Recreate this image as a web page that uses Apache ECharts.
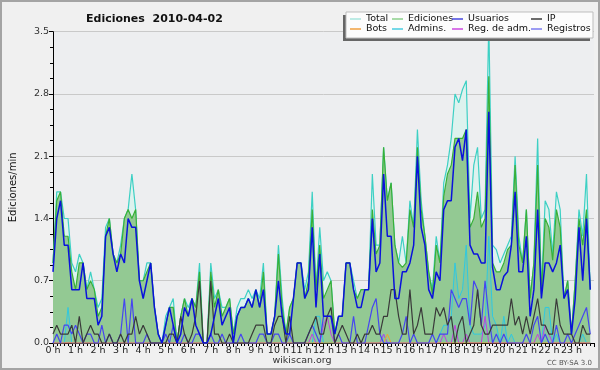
<!DOCTYPE html>
<html><head><meta charset="utf-8">
<script src="https://cdn.jsdelivr.net/npm/echarts@6/dist/echarts.min.js"></script>
<style>html,body{margin:0;padding:0;background:#f0f0f0}#c{width:600px;height:370px}</style>
</head><body><div id="c"></div>
<script>
const hourLabels = ['0 h','1 h','2 h','3 h','4 h','5 h','6 h','7 h','8 h','9 h','10 h','11 h','12 h','13 h','14 h','15 h','16 h','17 h','18 h','19 h','20 h','21 h','22 h','23 h'];
const yTicks = [0, 0.7, 1.4, 2.1, 2.8, 3.5];

const total = [
0.9,1.7,1.7,1.4,1.4,0.9, 0.8,1.0,0.9,0.6,0.8,0.6, 0.4,0.5,1.3,1.4,1.0,0.9, 1.1,1.4,1.5,1.9,1.5,0.7,
0.7,0.9,0.9,0.4,0.1,0, 0.3,0.4,0.5,0,0.3,0.5, 0.4,0.5,0.4,0.9,0,0, 0.9,0.5,0.6,0.4,0.4,0.5,
0.1,0.4,0.5,0.5,0.6,0.5, 0.6,0.5,0.9,0.1,0.1,0.3, 1.1,0.5,0.1,0.4,0.5,0.9, 0.9,0.6,0.8,1.7,0.6,1.3,
0.7,0.8,0.7,0.1,0.3,0.3, 0.9,0.9,0.7,0.5,0.6,0.6, 0.6,1.9,1.1,1.1,2.2,1.6, 1.8,1.1,0.9,1.2,0.9,1.6,
1.3,2.4,1.6,1.2,0.8,0.6, 1.2,0.9,1.8,2.0,2.3,2.8, 2.7,2.85,2.95,1.4,2.0,2.2, 1.4,1.5,3.6,1.1,1.05,0.9,
1.0,1.1,1.2,2.1,1.2,0.9, 1.5,0.5,0.9,2.3,0.6,1.6, 1.5,1.0,1.7,1.5,0.5,0.7, 0.1,0.7,1.5,1.2,1.9,0.6];

const ediciones = [
0.9,1.6,1.7,1.2,1.2,0.8, 0.6,0.9,0.9,0.6,0.7,0.6, 0.3,0.4,1.2,1.4,1.0,0.9, 1.0,1.4,1.5,1.4,1.5,0.7,
0.7,0.8,0.9,0.4,0.1,0, 0.2,0.4,0.4,0,0.3,0.5, 0.3,0.5,0.4,0.8,0,0, 0.8,0.4,0.6,0.3,0.4,0.5,
0.1,0.3,0.4,0.4,0.5,0.4, 0.6,0.4,0.8,0.1,0.1,0.3, 1.0,0.4,0.1,0.4,0.5,0.9, 0.9,0.5,0.7,1.5,0.6,1.1,
0.5,0.6,0.7,0.1,0.3,0.3, 0.9,0.9,0.6,0.5,0.6,0.6, 0.6,1.5,1.0,1.1,2.2,1.6, 1.8,1.1,0.9,0.85,0.9,1.5,
1.3,2.2,1.5,1.2,0.8,0.55, 1.1,0.9,1.65,1.9,2.0,2.3, 2.3,2.3,2.4,1.3,1.4,1.7, 1.3,1.4,3.0,0.9,0.8,0.8,
0.9,1.05,1.1,2.0,1.1,0.9, 1.5,0.5,0.9,2.0,0.55,1.4, 1.3,0.93,1.5,1.3,0.5,0.7, 0.1,0.7,1.4,1.1,1.5,0.6];

const usuarios = [
0.8,1.4,1.6,1.1,1.1,0.6, 0.6,0.6,0.9,0.5,0.5,0.5, 0.2,0.3,1.2,1.3,1.0,0.8, 1.0,0.9,1.4,1.3,1.3,0.7,
0.5,0.7,0.9,0.4,0.1,0, 0.2,0.4,0.2,0,0.1,0.4, 0.3,0.5,0.2,0.1,0,0, 0.1,0.3,0.5,0.2,0.3,0.4,
0,0.3,0.4,0.4,0.5,0.4, 0.6,0.4,0.6,0.1,0.1,0.3, 0.7,0.3,0.1,0.1,0.5,0.9, 0.9,0.5,0.6,1.3,0.4,1.0,
0.3,0.3,0.3,0.1,0.3,0.3, 0.9,0.9,0.6,0.4,0.4,0.6, 0.6,1.4,0.8,0.9,1.9,1.2, 1.2,0.5,0.5,0.8,0.8,0.9,
1.1,2.1,1.3,1.1,0.6,0.5, 0.8,0.7,1.5,1.6,1.6,2.2, 2.3,2.05,2.4,1.1,1.0,1.0, 0.9,0.9,2.6,0.85,0.6,0.6,
0.75,0.8,1.1,1.7,0.8,0.8, 1.2,0.3,0.6,1.5,0.5,0.9, 0.9,0.8,0.9,1.1,0.5,0.6, 0.1,0.5,1.3,0.7,1.4,0.6];

const ip = [
0.1,0.2,0.1,0.1,0.1,0.2, 0,0.3,0,0.1,0.2,0.1, 0.1,0,0,0.1,0,0, 0.1,0,0.1,0.1,0.3,0.1,
0.2,0.1,0,0,0,0, 0,0.1,0.1,0,0.3,0.1, 0,0.1,0.3,0.7,0,0, 0.7,0.1,0.1,0,0,0.1,
0,0,0,0,0,0.1, 0.2,0.2,0.2,0,0,0.2, 0.3,0.3,0,0.3,0,0, 0,0,0.1,0.2,0.3,0.1,
0.1,0.3,0.4,0,0.1,0.2, 0.1,0,0,0.1,0,0.1, 0.1,0.2,0.1,0.1,0.3,0.3, 0.6,0.6,0.3,0.1,0.1,0.6,
0.1,0.2,0.4,0.1,0.1,0.1, 0.4,0.3,0.4,0.2,0.3,0, 0.2,0.3,0,0.1,0.2,0.6, 0.2,0.1,0.1,0.2,0.2,0.2,
0.2,0.2,0.5,0.2,0.3,0.1, 0.3,0.1,0.3,0.5,0.2,0.2, 0.1,0.1,0.5,0.2,0.1,0.1, 0.1,0,0,0.2,0.1,0.1];

const bots = [
0,0,0,0,0,0, 0,0,0,0,0,0, 0,0,0,0,0,0, 0,0,0,0,0,0,
0,0,0,0,0,0, 0,0,0,0,0,0, 0,0,0,0,0,0, 0,0,0,0,0,0,
0,0,0,0,0,0, 0,0,0,0,0,0, 0,0,0,0,0,0, 0,0,0,0,0,0,
0,0,0,0,0,0, 0,0,0,0,0,0, 0,0,0,0,0,0.1, 0,0,0,0,0,0,
0,0,0,0,0,0, 0,0,0,0,0,0, 0,0,0,0,0,0, 0,0,0,0,0,0,
0,0,0,0,0,0, 0,0,0,0,0,0, 0,0,0,0,0,0, 0,0,0,0,0,0];

const admins = [
0,0,0,0,0.4,0, 0,0,0,0,0,0, 0,0,0,0,0,0, 0,0,0,0,0,0,
0,0,0,0,0,0, 0,0,0,0,0,0, 0,0,0,0,0,0, 0,0,0,0,0,0,
0,0,0,0,0,0, 0,0,0,0,0,0, 0,0,0,0,0,0, 0,0,0,0,0.3,0.3,
0,0,0,0,0,0, 0,0,0,0,0,0, 0,0,0,0,0.1,0, 0,0,0,0,0,0,
0,0,0,0,0,0, 0,0.1,0.2,0.2,0.3,0.9, 0.5,0.6,1.1,0.2,0.1,0.1, 0.1,0.2,1.2,0.3,0.2,0,
0.3,0,0.1,0,0,0, 0,0,0,0,0,0.4, 0.4,0,0.1,0,0,0, 0,0,0,0.1,0,0];

const regAdm = [
0,0,0,0,0,0, 0,0,0,0,0,0, 0,0,0,0,0,0, 0,0,0,0,0,0,
0,0,0,0,0,0, 0,0,0,0,0,0, 0,0,0,0,0,0, 0,0,0,0,0,0,
0,0,0,0,0,0, 0,0,0,0,0,0, 0,0,0,0,0,0, 0,0,0,0.1,0,0,
0.2,0.3,0.1,0,0,0, 0,0,0,0,0,0, 0,0,0,0,0.1,0, 0,0,0,0,0,0,
0,0,0,0,0,0, 0,0,0.1,0,0,0.2, 0,0,0.1,0,0,0, 0,0.3,0,0,0,0,
0,0,0,0,0,0, 0,0,0,0.1,0,0.2, 0.1,0,0,0,0,0, 0,0,0,0,0,0];

const registros = [
0,0.1,0,0.2,0.2,0.1, 0.2,0.1,0,0.1,0.1,0, 0,0.2,0,0.1,0,0, 0.1,0.5,0,0.5,0,0,
0,0.1,0,0,0,0, 0.1,0,0.2,0,0,0.1, 0,0,0.1,0.1,0,0, 0.1,0,0,0.1,0,0,
0,0,0.1,0,0,0, 0,0.1,0.1,0,0,0.1, 0.1,0,0,0.1,0,0, 0,0,0.1,0.2,0.1,0,
0.3,0.3,0.3,0,0.1,0, 0,0,0.3,0,0,0, 0.2,0.4,0.5,0.1,0,0, 0,0,0,0.1,0.3,0,
0.1,0,0,0,0,0.1, 0,0.1,0.1,0.1,0.6,0.5, 0.4,0.5,0.5,0.2,0.7,0.6, 0.2,0.7,0.3,0,0.1,0,
0.1,0,0,0,0,0, 0.1,0,0.2,0.3,0,0.1, 0,0,0.2,0,0,0.1, 0,0.1,0.2,0.3,0.4,0.1];

const FONT = '"DejaVu Sans", sans-serif';
const pts = arr => arr.map((v, i) => [i, v]);

function mk(name, data, color, width, z, area) {
  const s = {
    name, type: 'line', data: pts(data), symbol: 'none', showSymbol: false,
    silent: true, z, clip: true,
    lineStyle: { color, width },
    itemStyle: { color }
  };
  if (area) s.areaStyle = area;
  return s;
}

const legendColors = {
  'Total': '#a8e6de', 'Ediciones': '#8cd08c', 'Usuarios': '#4848e0', 'IP': '#3c3c3c',
  'Bots': '#f0a040', 'Admins.': '#48cce0', 'Reg. de adm.': '#cc48e0', 'Registros': '#7c7cf0'
};
const cols = [
  { left: 350, names: ['Total', 'Bots'] },
  { left: 392, names: ['Ediciones', 'Admins.'] },
  { left: 452, names: ['Usuarios', 'Reg. de adm.'] },
  { left: 531, names: ['IP', 'Registros'] }
];
const legends = cols.map(c => ({
  orient: 'vertical', left: c.left, top: 14, padding: 0, itemGap: 0,
  itemWidth: 11, itemHeight: 1.5, selectedMode: false, z: 6, icon: 'rect',
  textStyle: { fontFamily: FONT, fontSize: 9.5, color: '#111', lineHeight: 10 },
  data: c.names.map(n => ({ name: n, icon: 'rect', itemStyle: { color: legendColors[n] } }))
}));

const chart = echarts.init(document.getElementById('c'), null, { renderer: 'canvas' });
chart.setOption({
  backgroundColor: '#f0f0f0',
  animation: false,
  title: {
    text: 'Ediciones  2010-04-02', left: 81, top: 9,
    textStyle: { fontFamily: FONT, fontSize: 11, fontWeight: 'bold', color: '#111' }
  },
  grid: { left: 46, right: 6, top: 31.7, bottom: 27, show: true, backgroundColor: '#edeef0', borderWidth: 0 },
  xAxis: {
    type: 'value', min: 0, max: 144, interval: 6,
    axisLine: { lineStyle: { color: '#000', width: 1 } },
    axisTick: { show: true, length: 4, lineStyle: { color: '#000' } },
    minorTick: { show: true, splitNumber: 6, length: 3, lineStyle: { color: '#000' } },
    splitLine: { show: false },
    axisLabel: {
      formatter: v => hourLabels[Math.round(v / 6)] || '',
      fontFamily: FONT, fontSize: 9.5, color: '#222', margin: 3
    }
  },
  yAxis: {
    type: 'value', min: yTicks[0], max: yTicks[yTicks.length - 1], interval: 0.7,
    name: 'Ediciones/min', nameLocation: 'middle', nameGap: 35,
    nameTextStyle: { fontFamily: FONT, fontSize: 10, color: '#111' },
    axisLine: { show: true, lineStyle: { color: '#000' } },
    axisTick: { show: true, length: 4, lineStyle: { color: '#000' } },
    minorTick: { show: true, splitNumber: 4, length: 3, lineStyle: { color: '#000' } },
    splitLine: { show: true, lineStyle: { color: '#c9c9c9', width: 1 } },
    axisLabel: { formatter: v => v.toFixed(1), fontFamily: FONT, fontSize: 9.5, color: '#333', margin: 4 }
  },
  legend: legends,
  graphic: [
    { type: 'rect', z: 5, shape: { x: 343, y: 15, width: 247, height: 26 }, style: { fill: '#666' } },
    { type: 'rect', z: 5, shape: { x: 346, y: 12, width: 247, height: 26 }, style: { fill: '#fcfcfc', stroke: '#bdbdbd', lineWidth: 1 } },
    { type: 'text', z: 6, x: 302, y: 361, style: { text: 'wikiscan.org', fontFamily: FONT, fontSize: 9.5, fill: '#333', textAlign: 'center', textVerticalAlign: 'middle' } },
    { type: 'text', z: 6, x: 592, y: 363, style: { text: 'CC BY-SA 3.0', fontFamily: FONT, fontSize: 7, fill: '#555', textAlign: 'right', textVerticalAlign: 'middle' } },
    { type: 'rect', z: 20, shape: { x: 1, y: 1, width: 598, height: 368 }, style: { fill: 'none', stroke: '#a4a4a4', lineWidth: 2 } }
  ],
  series: [
    mk('Total', total, '#3dd0c4', 1.2, 1, { color: '#ddf2ee', opacity: 1 }),
    mk('Ediciones', ediciones, '#38b038', 1.2, 2, { color: '#93c993', opacity: 1 }),
    mk('Admins.', admins, '#30c8e0', 1, 3, { color: 'rgba(60,180,230,0.22)' }),
    mk('Reg. de adm.', regAdm, '#c040e0', 1, 3),
    mk('Bots', bots, '#f0a030', 1, 3),
    mk('Registros', registros, '#4646f0', 1.2, 3),
    mk('IP', ip, '#3a3a3a', 1.2, 3),
    mk('Usuarios', usuarios, '#0a12dc', 1.5, 4)
  ]
});
</script>
</body></html>
